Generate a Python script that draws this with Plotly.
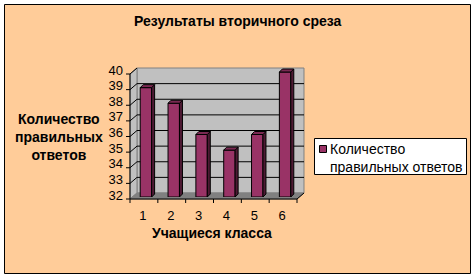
import plotly.graph_objects as go

# ---- data ----
students = [1, 2, 3, 4, 5, 6]
correct_answers = [39, 38, 36, 35, 36, 40]
y_tick_values = [32, 33, 34, 35, 36, 37, 38, 39, 40]
series_name = "Количество правильных ответов"
chart_title = "Результаты вторичного среза"
x_title = "Учащиеся класса"
y_title = "Количество<br>правильных<br>ответов"

# ---- geometry (pixels) ----
W, H = 474, 278
L, R, T, B = 132, 299, 72, 197          # plot area (bar plane)
XMIN, XMAX = 0.5, 6.5
YMIN, YMAX = 32, 40
FRONT = (-2, 2)                          # front plane offset
BACK = (5, -4)                           # back plane offset
BAR_W = 0.41
BAR_D = (3, -3)

PEACH = "#FFCC99"
WALL = "#C0C0C0"
FLOOR = "#808080"
BAR = "#993366"
BAR_SIDE = "#4D1A33"
BAR_TOP = "#7A2952"
FONT = "Liberation Sans, Arial, sans-serif"


def X(x):
    return L + (x - XMIN) * (R - L) / (XMAX - XMIN)


def Y(v):
    return B - (v - YMIN) * (B - T) / (YMAX - YMIN)


def px(xp):
    return (xp - L) / (R - L)


def py(yp):
    return (B - yp) / (B - T)


def path(points):
    s = "M " + " L ".join(f"{px(a):.5f},{py(b):.5f}" for a, b in points) + " Z"
    return s


def line(x0, y0, x1, y1, color="black", layer="below", width=1):
    return dict(type="line", xref="paper", yref="paper",
                x0=px(x0), y0=py(y0), x1=px(x1), y1=py(y1),
                line=dict(color=color, width=width), layer=layer)


def poly(points, fill, color="black", layer="below", width=1):
    return dict(type="path", xref="paper", yref="paper", path=path(points),
                fillcolor=fill, line=dict(color=color, width=width), layer=layer)


shapes = []
# chart area background with border
shapes.append(dict(type="rect", xref="paper", yref="paper",
                   x0=px(4.5), y0=py(4.5), x1=px(470.5), y1=py(273.5),
                   fillcolor=PEACH, line=dict(color="black", width=1), layer="below"))

fl, fr = X(XMIN) + FRONT[0], X(XMAX) + FRONT[0]
bl, br = X(XMIN) + BACK[0], X(XMAX) + BACK[0]
ft, fb = Y(YMAX) + FRONT[1], Y(YMIN) + FRONT[1]
bt, bb = Y(YMAX) + BACK[1], Y(YMIN) + BACK[1]

# back wall, side wall, floor
shapes.append(poly([(bl, bt), (br, bt), (br, bb), (bl, bb)], WALL, color=FLOOR))
shapes.append(poly([(fl, ft), (bl, bt), (bl, bb), (fl, fb)], WALL, color=FLOOR))
shapes.append(poly([(fl, fb), (bl, bb), (br, bb), (fr, fb)], FLOOR, color=FLOOR))

# gridlines on walls
for v in y_tick_values[1:-1]:
    shapes.append(line(fl, Y(v) + FRONT[1], bl, Y(v) + BACK[1]))
    shapes.append(line(bl, Y(v) + BACK[1], br, Y(v) + BACK[1]))
shapes.append(line(fl, ft, bl, bt))

# front value axis with ticks
shapes.append(line(fl, ft, fl, fb))
for v in y_tick_values:
    shapes.append(line(fl - 4, Y(v) + FRONT[1], fl, Y(v) + FRONT[1]))
# category axis with ticks
shapes.append(line(fl, fb, fr, fb))
shapes.append(line(fr, fb, br, bb))
for k in range(len(students) + 1):
    xx = X(XMIN + k) + FRONT[0]
    shapes.append(line(xx, fb, xx, fb + 4))

# 3D faces of bars, derived from the data
for s, v in zip(students, correct_answers):
    lft, rgt = X(s - BAR_W / 2), X(s + BAR_W / 2)
    top, bot = Y(v), Y(YMIN)
    dxb, dyb = BAR_D
    shapes.append(poly([(rgt, top), (rgt + dxb, top + dyb), (rgt + dxb, bot + dyb), (rgt, bot)],
                       BAR_SIDE, layer="above"))
    shapes.append(poly([(lft, top), (lft + dxb, top + dyb), (rgt + dxb, top + dyb), (rgt, top)],
                       BAR_TOP, layer="above"))

# manual legend
shapes.append(dict(type="rect", xref="paper", yref="paper",
                   x0=px(314.5), y0=py(138.5), x1=px(466.5), y1=py(174.5),
                   fillcolor="white", line=dict(color="black", width=1), layer="above"))
shapes.append(dict(type="rect", xref="paper", yref="paper",
                   x0=px(319.5), y0=py(145.5), x1=px(326.5), y1=py(152.5),
                   fillcolor=BAR, line=dict(color="black", width=1), layer="above"))

legend_text = series_name.replace(" ", "<br>", 1)

annotations = [
    dict(text="<b>" + chart_title + "</b>", x=px(238), y=py(21), xref="paper", yref="paper",
         showarrow=False, xanchor="center", yanchor="middle",
         font=dict(family=FONT, size=14, color="black")),
    dict(text="<b>" + y_title + "</b>", x=px(59), y=py(137), xref="paper", yref="paper",
         showarrow=False, xanchor="center", yanchor="middle", align="center",
         font=dict(family=FONT, size=14, color="black")),
    dict(text="<b>" + x_title + "</b>", x=px(212), y=py(233), xref="paper", yref="paper",
         showarrow=False, xanchor="center", yanchor="middle",
         font=dict(family=FONT, size=14, color="black")),
    dict(text=legend_text, x=px(328), y=py(157.5), xref="paper", yref="paper",
         showarrow=False, xanchor="left", yanchor="middle", align="left",
         font=dict(family=FONT, size=14, color="black")),
]

fig = go.Figure(go.Bar(
    x=students,
    y=[v - YMIN for v in correct_answers],
    base=YMIN,
    width=BAR_W,
    name=series_name,
    marker=dict(color=BAR, line=dict(color="black", width=1)),
    customdata=correct_answers,
    hovertemplate="%{x}: %{customdata}<extra></extra>",
))

fig.update_layout(
    width=W, height=H,
    margin=dict(l=L, r=W - R, t=T, b=H - B, pad=0),
    paper_bgcolor="white",
    plot_bgcolor="rgba(0,0,0,0)",
    showlegend=False,
    shapes=shapes,
    annotations=annotations,
    font=dict(family=FONT, size=13, color="black"),
    xaxis=dict(range=[XMIN, XMAX], tickvals=students, ticktext=[str(s) for s in students],
               showgrid=False, zeroline=False, showline=False, ticks="",
               ticklabelstandoff=9, ticklabelshift=-3,
               tickfont=dict(family=FONT, size=13, color="black"), fixedrange=True),
    yaxis=dict(range=[YMIN, YMAX], tickvals=y_tick_values,
               showgrid=False, zeroline=False, showline=False, ticks="",
               ticklabelstandoff=8, ticklabelshift=-2,
               tickfont=dict(family=FONT, size=13, color="black"), fixedrange=True),
)

fig.write_html("out.html")
